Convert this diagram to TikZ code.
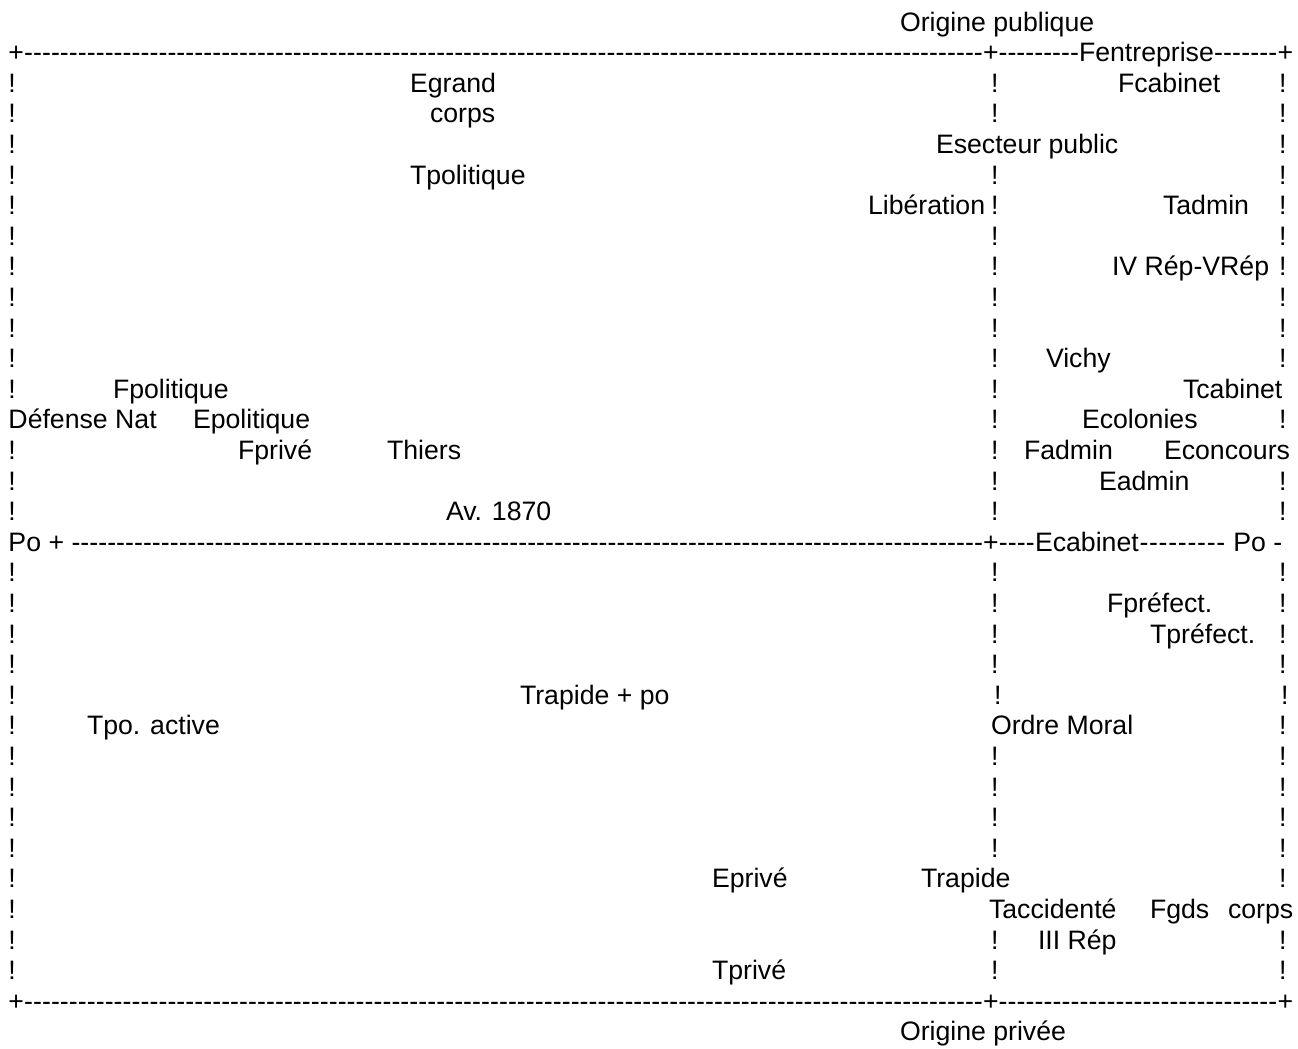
\documentclass[tikz,border=0pt]{standalone}
\usepackage{fontspec}
\setmainfont{Liberation Sans}
\usepackage{tikz}

% a run of hyphens filling a given width (pt)
\newcommand\dashrun[1]{\hbox to #1pt{\xleaders\hbox{-}\hfill}}

\tikzset{ascii/.style={anchor=base west, inner sep=0pt, outer sep=0pt,
                       font=\fontsize{26.67}{30.6}\selectfont}}

\begin{document}
\begin{tikzpicture}[x=1pt, y=-30.6pt]

\useasboundingbox (0,-1.0131) rectangle (1298,33.2353);

% top frame
\node[ascii] (pub) at (900,0) {Origine publique};

\node[ascii] (tl) at (8.5,1) {+};
\node[ascii] (tm) at (983,1) {+};
\node[ascii] (fent) at (1079,1) {Fentreprise};
\node[ascii] (tr) at (1277.5,1) {+};
\node[ascii] (tla) at (tl.base east) {\dashrun{958.9}};
\node[ascii] (tmb) at (tm.base east) {\dashrun{80.4}};
\node[ascii] (tmc) at (fent.base east) {\dashrun{63.6}};

% the ! columns
\foreach \r in {2,...,12,14,15,16,18,19,20,21,22,23,24,25,26,27,28,29,30,31}
  \node[ascii] (l\r) at (8.5,\r) {!};
\foreach \r in {2,3,5,6,7,8,9,10,11,12,13,14,15,16,18,19,20,21,24,25,26,27,30,31}
  \node[ascii] (m\r) at (991,\r) {!};
\foreach \r in {2,...,11,13,15,16,18,19,20,21,23,24,25,26,27,28,30,31}
  \node[ascii] (r\r) at (1279,\r) {!};
\node[ascii] (m22) at (994,22) {!};
\node[ascii] (r22) at (1281,22) {!};

% upper half
\node[ascii] (egrand) at (410,2) {Egrand};
\node[ascii] (fcab) at (1118,2) {Fcabinet};
\node[ascii] (corps) at (430,3) {corps};
\node[ascii] (esect) at (936,4) {Esecteur public};
\node[ascii] (tpol) at (410,5) {Tpolitique};
\node[ascii] (liber) at (868,6) {Libération};
\node[ascii] (tadmin) at (1163,6) {Tadmin};
\node[ascii] (ivrep) at (1112,8) {IV Rép-VRép};
\node[ascii] (vichy) at (1046,11) {Vichy};
\node[ascii] (fpol) at (113,12) {Fpolitique};
\node[ascii] (tcab) at (1183,12) {Tcabinet};
\node[ascii] (defnat) at (8.5,13) {Défense Nat};
\node[ascii] (epol) at (193,13) {Epolitique};
\node[ascii] (ecol) at (1082,13) {Ecolonies};
\node[ascii] (fprive) at (238,14) {Fprivé};
\node[ascii] (thiers) at (387,14) {Thiers};
\node[ascii] (fadmin) at (1024,14) {Fadmin};
\node[ascii] (econc) at (1164,14) {Econcours};
\node[ascii] (eadmin) at (1099,15) {Eadmin};
\node[ascii] (av) at (446,16) {Av. 1870};

% middle axis
\node[ascii] (poplus) at (8.5,17) {Po +};
\node[ascii] (cm) at (983,17) {+};
\node[ascii] (ecab) at (1035,17) {Ecabinet};
\node[ascii] (pominus) at (1233.4,17) {Po -};
\node[ascii] (cla) at (71.5,17) {\dashrun{911.5}};
\node[ascii] (cmb) at (cm.base east) {\dashrun{36.4}};
\node[ascii] (cmc) at (ecab.base east) {\dashrun{87.2}};

% lower half
\node[ascii] (fpref) at (1107,19) {Fpréfect.};
\node[ascii] (tpref) at (1150,20) {Tpréfect.};
\node[ascii] (trpo) at (520,22) {Trapide + po};
\node[ascii] (tpoact) at (87,23) {Tpo. active};
\node[ascii] (ordre) at (991,23) {Ordre Moral};
\node[ascii] (eprive) at (712,28) {Eprivé};
\node[ascii] (trap) at (921,28) {Trapide};
\node[ascii] (tacc) at (989,29) {Taccidenté};
\node[ascii] (fgds) at (1150,29) {Fgds};
\node[ascii] (corpsb) at (1228,29) {corps};
\node[ascii] (iiirep) at (1038,30) {III Rép};
\node[ascii] (tprive) at (712,31) {Tprivé};

% bottom frame
\node[ascii] (bl) at (8.5,32) {+};
\node[ascii] (bm) at (983,32) {+};
\node[ascii] (br) at (1277.5,32) {+};
\node[ascii] (bla) at (bl.base east) {\dashrun{958.9}};
\node[ascii] (bmb) at (bm.base east) {\dashrun{278.9}};

\node[ascii] (priv) at (900,33) {Origine privée};

\end{tikzpicture}
\end{document}
